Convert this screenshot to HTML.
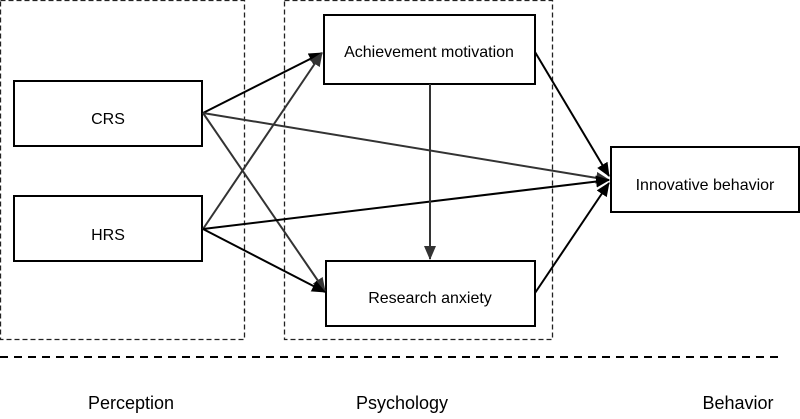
<!DOCTYPE html>
<html><head><style>html,body{margin:0;padding:0;background:#fff}</style></head>
<body>
<svg width="800" height="414" viewBox="0 0 800 414" xmlns="http://www.w3.org/2000/svg" font-family="Liberation Sans, sans-serif">
<defs>
<marker id="ab" markerWidth="14" markerHeight="12" refX="13" refY="6" orient="auto" markerUnits="userSpaceOnUse"><path d="M0,0 L14,6 L0,12 Z" fill="#000"/></marker>
<marker id="ag" markerWidth="14" markerHeight="12" refX="13" refY="6" orient="auto" markerUnits="userSpaceOnUse"><path d="M0,0 L14,6 L0,12 Z" fill="#333"/></marker>
</defs>
<g fill="none" stroke="#222" stroke-width="1.3" stroke-dasharray="5,3">
<rect x="0.5" y="0.5" width="244" height="339"/>
<rect x="284.5" y="0.5" width="268" height="339"/>
</g>
<line x1="0" y1="357" x2="784" y2="357" stroke="#000" stroke-width="2" stroke-dasharray="8,6"/>
<g fill="#fff" stroke="#000" stroke-width="2">
<rect x="14" y="81" width="188" height="65"/>
<rect x="14" y="196" width="188" height="65"/>
<rect x="324" y="15" width="211" height="69"/>
<rect x="326" y="261" width="209" height="65"/>
<rect x="611" y="147" width="188" height="65"/>
</g>
<g stroke-width="2" fill="none">
<line x1="203" y1="113" x2="322" y2="53" stroke="#000" marker-end="url(#ab)"/>
<line x1="203" y1="229" x2="322" y2="53" stroke="#333" marker-end="url(#ag)"/>
<line x1="203" y1="113" x2="325" y2="291" stroke="#333" marker-end="url(#ag)"/>
<line x1="203" y1="229" x2="325" y2="292" stroke="#000" marker-end="url(#ab)"/>
<line x1="203" y1="113" x2="609" y2="180" stroke="#333" marker-end="url(#ag)"/>
<line x1="203" y1="229" x2="609" y2="180" stroke="#000" marker-end="url(#ab)"/>
<line x1="535" y1="52" x2="609" y2="176" stroke="#000" marker-end="url(#ab)"/>
<line x1="535" y1="293" x2="609" y2="183" stroke="#000" marker-end="url(#ab)"/>
<line x1="430" y1="84" x2="430" y2="259" stroke="#333" marker-end="url(#ag)"/>
</g>
<g font-size="16" fill="#000" text-anchor="middle">
<text x="108" y="124">CRS</text>
<text x="108" y="240">HRS</text>
<text x="429" y="57">Achievement motivation</text>
<text x="430" y="303">Research anxiety</text>
<text x="705" y="190">Innovative behavior</text>
</g>
<g font-size="18" fill="#000" text-anchor="middle">
<text x="131" y="409">Perception</text>
<text x="402" y="409">Psychology</text>
<text x="738" y="409">Behavior</text>
</g>
</svg>
</body></html>
